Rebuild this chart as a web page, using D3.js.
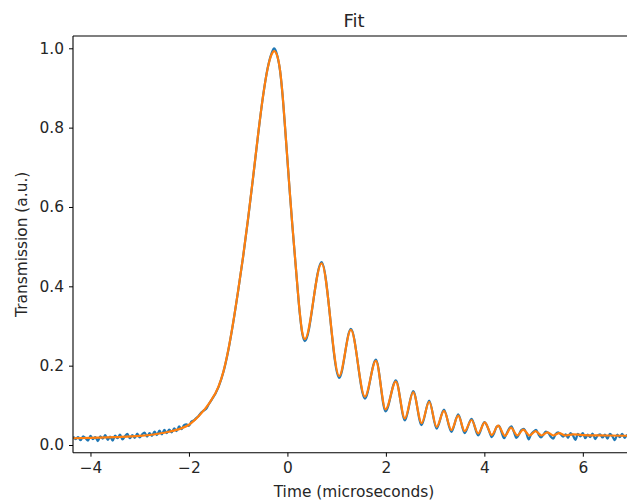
<!DOCTYPE html>
<html><head><meta charset="utf-8">
<script src="https://cdn.jsdelivr.net/npm/d3@7"></script>
<style>
body{margin:0;background:#fff;}
text{font-family:"DejaVu Sans",sans-serif;fill:#262626;}
</style></head>
<body><svg id="c" width="627" height="504"></svg>
<script>
const title = "Fit";
const xLabel = "Time (microseconds)";
const yLabel = "Transmission (a.u.)";
const xTicks = [-4, -2, 0, 2, 4, 6];
const yTicks = [0.0, 0.2, 0.4, 0.6, 0.8, 1.0];

// Fit curve (orange) key points
const fitX = [-4.36,-4.0,-3.5,-3.0,-2.5,-2.2,-2.0,-1.8,-1.6,-1.4,-1.3,-1.2,-1.1,-1.0,-0.9,-0.8,-0.7,-0.6,-0.5,-0.4,-0.32,-0.27,-0.20,-0.15,-0.10,-0.05,0.00,0.05,0.10,0.15,0.20,0.25,0.30,0.355,0.694,1.052,1.289,1.574,1.797,1.994,2.203,2.386,2.555,2.725,2.88,3.03,3.18,3.33,3.47,3.60,3.74,3.875,4.01,4.15,4.28,4.42,4.54,4.67,4.79,4.92,5.04,5.16,5.28,5.40,5.52,5.64,5.8,6.0,6.5,7.07];
const fitY = [0.017,0.018,0.020,0.023,0.031,0.040,0.051,0.073,0.103,0.147,0.185,0.240,0.310,0.390,0.475,0.570,0.672,0.778,0.875,0.950,0.985,0.993,0.978,0.945,0.885,0.805,0.720,0.635,0.555,0.480,0.405,0.335,0.285,0.267,0.458,0.174,0.290,0.122,0.212,0.090,0.160,0.067,0.133,0.055,0.109,0.046,0.086,0.038,0.074,0.035,0.063,0.029,0.057,0.025,0.049,0.023,0.044,0.024,0.039,0.024,0.035,0.024,0.032,0.024,0.030,0.024,0.027,0.025,0.024,0.023];

const dataX = [-4.35,-4.30,-4.25,-4.20,-4.15,-4.10,-4.05,-4.00,-3.95,-3.90,-3.85,-3.80,-3.75,-3.70,-3.65,-3.60,-3.55,-3.50,-3.45,-3.40,-3.35,-3.30,-3.25,-3.20,-3.15,-3.10,-3.05,-3.00,-2.95,-2.90,-2.85,-2.80,-2.75,-2.70,-2.65,-2.60,-2.55,-2.50,-2.45,-2.40,-2.35,-2.30,-2.25,-2.20,-2.15,-2.10,-2.05,-2.00,-1.95,-1.90,-1.85,-1.80,-1.75,-1.70,-1.65,-1.60,
-1.4,-1.3,-1.2,-1.1,-1.0,-0.9,-0.8,-0.7,-0.6,-0.5,-0.4,-0.32,-0.27,-0.20,-0.15,-0.10,-0.05,0.00,0.05,0.10,0.15,0.20,0.25,0.30,0.355,0.694,1.052,1.289,1.574,1.797,1.994,2.203,2.386,2.555,2.725,2.88,3.03,3.18,3.33,3.47,3.60,3.74,3.875,
4.00,4.05,4.10,4.15,4.20,4.25,4.30,4.35,4.40,4.45,4.50,4.55,4.60,4.65,4.70,4.75,4.80,4.85,4.90,4.95,5.00,5.05,5.10,5.15,5.20,5.25,5.30,5.35,5.40,5.45,5.50,5.55,5.60,5.65,5.70,5.75,5.80,5.85,5.90,5.95,6.00,6.05,6.10,6.15,6.20,6.25,6.30,6.35,6.40,6.45,6.50,6.55,6.60,6.65,6.70,6.75,6.80,6.85,6.90,6.95,7.00,7.05];
const dataY = [0.021,0.015,0.020,0.012,0.022,0.017,0.011,0.023,0.015,0.020,0.010,0.022,0.016,0.025,0.013,0.021,0.011,0.024,0.017,0.026,0.014,0.022,0.028,0.017,0.025,0.018,0.029,0.019,0.027,0.031,0.021,0.030,0.023,0.034,0.025,0.036,0.027,0.038,0.030,0.039,0.032,0.042,0.035,0.047,0.040,0.050,0.052,0.048,0.059,0.062,0.068,0.074,0.082,0.087,0.091,0.102,
0.146,0.184,0.239,0.309,0.389,0.474,0.569,0.671,0.777,0.875,0.951,0.988,1.000,0.979,0.944,0.884,0.804,0.719,0.634,0.554,0.479,0.404,0.333,0.282,0.262,0.461,0.169,0.293,0.117,0.215,0.085,0.163,0.062,0.136,0.050,0.112,0.041,0.089,0.033,0.077,0.030,0.066,0.024,
0.058,0.050,0.034,0.020,0.030,0.046,0.048,0.032,0.017,0.028,0.041,0.047,0.033,0.018,0.026,0.038,0.041,0.031,0.014,0.027,0.034,0.038,0.027,0.019,0.026,0.034,0.030,0.021,0.016,0.028,0.032,0.027,0.021,0.027,0.018,0.030,0.024,0.013,0.028,0.022,0.030,0.017,0.026,0.020,0.029,0.015,0.024,0.027,0.019,0.026,0.016,0.028,0.022,0.012,0.026,0.020,0.028,0.018,0.025,0.019,0.027,0.021];

const svg = d3.select("#c");
const L = 73, R = 635, T = 36, B = 452.7;
const x = d3.scaleLinear().domain([-4.355, 7.06]).range([L, R]);
const y = d3.scaleLinear().domain([-0.0194, 1.031]).range([B, T]);

svg.append("clipPath").attr("id","clip").append("rect")
  .attr("x", L).attr("y", T).attr("width", R - L).attr("height", B - T);

const g = svg.append("g").attr("clip-path","url(#clip)");
const line = d3.line().x(d => x(d[0])).y(d => y(d[1])).curve(d3.curveMonotoneX);
const dataPts = dataX.map((v,i)=>[v,dataY[i]]);
const fitPts = fitX.map((v,i)=>[v,fitY[i]]);
g.append("path").attr("d", line(dataPts)).attr("fill","none")
  .attr("stroke","#1f77b4").attr("stroke-width",2.2).attr("stroke-linejoin","round");
g.append("path").attr("d", line(fitPts)).attr("fill","none")
  .attr("stroke","#ff7f0e").attr("stroke-width",2.2).attr("stroke-linejoin","round");

// axes
const xAxis = d3.axisBottom(x).tickValues(xTicks).tickSize(4).tickPadding(5)
  .tickFormat(d => d3.format("d")(d).replace("-", "\u2212"));
const yAxis = d3.axisLeft(y).tickValues(yTicks).tickSize(4).tickPadding(5)
  .tickFormat(d3.format(".1f"));
const gx = svg.append("g").attr("transform",`translate(0,${B})`).call(xAxis);
const gy = svg.append("g").attr("transform",`translate(${L},0)`).call(yAxis);
[gx, gy].forEach(a => {
  a.select(".domain").remove();
  a.selectAll("line").attr("stroke","#000").attr("stroke-width",1);
  a.selectAll("text").style("font-family","'DejaVu Sans',sans-serif").style("font-size","15.4px").attr("fill","#262626");
});

// spines
svg.append("line").attr("x1",L).attr("x2",L).attr("y1",T).attr("y2",B).attr("stroke","#000").attr("stroke-width",1.1);
svg.append("line").attr("x1",L).attr("x2",R).attr("y1",B).attr("y2",B).attr("stroke","#000").attr("stroke-width",1.1);
svg.append("line").attr("x1",L).attr("x2",R).attr("y1",T).attr("y2",T).attr("stroke","#000").attr("stroke-width",1.1);
svg.append("line").attr("x1",R).attr("x2",R).attr("y1",T).attr("y2",B).attr("stroke","#000").attr("stroke-width",1.1);

svg.append("text").attr("x",(L+R)/2).attr("y",27).attr("text-anchor","middle")
  .style("font-size","18px").text(title);
svg.append("text").attr("x",(L+R)/2).attr("y",497).attr("text-anchor","middle")
  .style("font-size","15.4px").text(xLabel);
svg.append("text").attr("transform",`translate(27,${(T+B)/2}) rotate(-90)`).attr("text-anchor","middle")
  .style("font-size","15.4px").text(yLabel);
</script></body></html>
